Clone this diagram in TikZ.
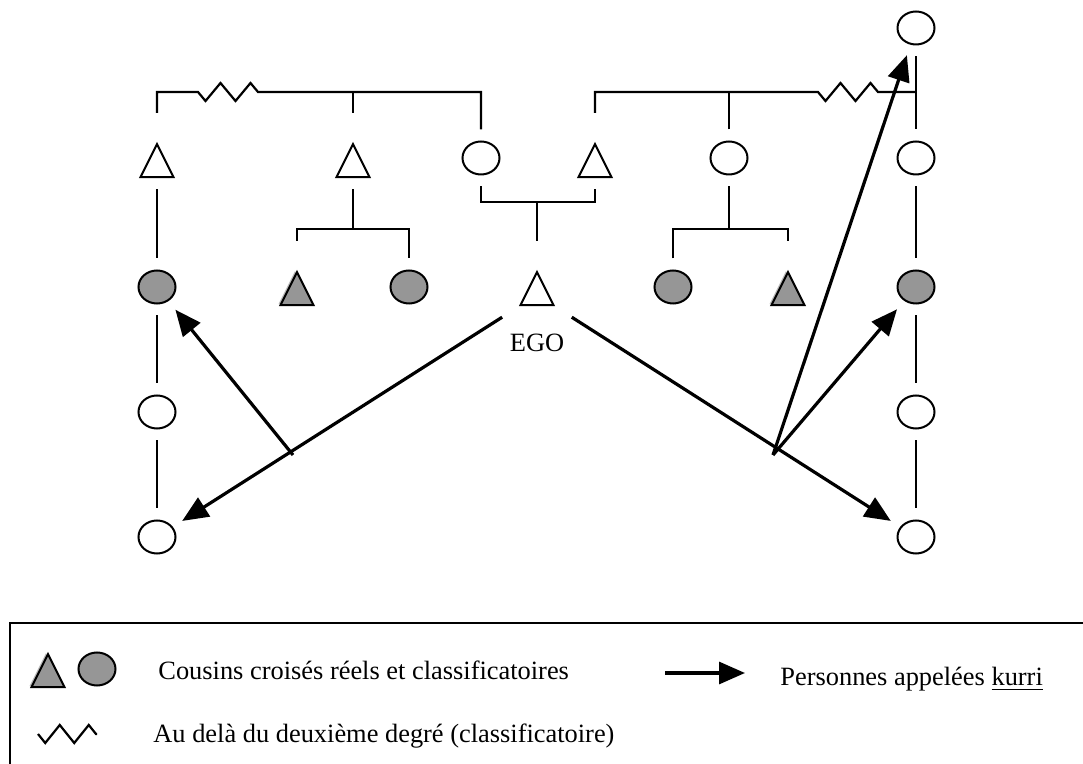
\documentclass[tikz,border=0pt]{standalone}
\usepackage{fontspec}
\setmainfont{Liberation Serif}
\usetikzlibrary{
    shapes.geometric,
    arrows.meta,
    positioning,
    decorations.pathmorphing,
    shadows
}
\definecolor{cousingray}{RGB}{150,150,150}
\definecolor{shadegray}{RGB}{185,185,185}
\tikzset{
    % Individuals
    male/.style={
        isosceles triangle,
        shape border rotate=90,
        isosceles triangle stretches,
        draw=black,
        line width=1pt,
        fill=white,
        minimum width=16.5pt,
        minimum height=16.5pt,
        inner sep=0pt,
        outer sep=6pt
    },
    female/.style={
        ellipse,
        draw=black,
        line width=1pt,
        fill=white,
        minimum width=18.5pt,
        minimum height=16.5pt,
        inner sep=0pt,
        outer sep=6pt
    },
    crosscousin/.style={
        fill=cousingray
    },
    cousinshade/.style={
        drop shadow={shadow xshift=-1pt, shadow yshift=0.5pt, fill=shadegray, opacity=1}
    },
    % Lines
    kinline/.style={
        line width=1.1pt,
        draw=black
    },
    kurri/.style={
        -{Triangle[length=13pt,width=11pt]},
        line width=1.6pt,
        draw=black
    },
    beyond/.style={
        decoration={zigzag, mirror, segment length=15pt, amplitude=4.5pt}
    },
    beyondkey/.style={
        decoration={zigzag, mirror, segment length=14.5pt, amplitude=4.5pt}
    },
    % Labels
    kinlabel/.style={
        font=\fontsize{13.2}{15}\selectfont,
        inner sep=0pt
    },
    legendtext/.style={
        font=\fontsize{13.2}{15}\selectfont,
        anchor=base west,
        inner sep=0pt
    }
}

\begin{document}
\begin{tikzpicture}[x=0.5pt, y=-0.5pt]

    \useasboundingbox (0,0) rectangle (1083,764);

    % Generation 0
    \node[female] (kin_r0) at (916,28) {};

    % Generation 1
    \node[male] (kin_l1) at (157,167) {};
    \node[male] (uncle) at (353,167) {};
    \node[female] (mother) at (481,158) {};
    \node[male] (father) at (595,167) {};
    \node[female] (aunt) at (729,158) {};
    \node[female] (kin_r1) at (916,158) {};

    % Generation 2
    \node[female, crosscousin] (kin_l2) at (157,287) {};
    \node[male, crosscousin, cousinshade] (cous_a) at (297,295) {};
    \node[female, crosscousin] (cous_b) at (409,287) {};
    \node[male] (ego) at (537,295) {};
    \node[kinlabel, below=8pt of ego] (ego_label) {EGO};
    \node[female, crosscousin] (cous_c) at (673,287) {};
    \node[male, crosscousin, cousinshade] (cous_d) at (788,295) {};
    \node[female, crosscousin] (kin_r2) at (916,287) {};

    % Generations 3 and 4
    \node[female] (kin_l3) at (157,412) {};
    \node[female] (kin_l4) at (157,537) {};
    \node[female] (kin_r3) at (916,412) {};
    \node[female] (kin_r4) at (916,537) {};

    % Sibling bars
    \coordinate (bar_l) at (157,92);
    \coordinate (zig_la) at (198,92);
    \coordinate (zig_lb) at (258,92);
    \coordinate (bar_m) at (481,92);
    \coordinate (zig_ra) at (818,92);
    \coordinate (zig_rb) at (878,92);
    \coordinate (bar_r) at (916,92);
    \draw[kinline] (kin_l1) -- (bar_l) -- (zig_la) decorate[beyond]{-- (zig_lb)} -- (bar_m) -- (mother);
    \draw[kinline] (uncle) -- (uncle |- bar_l);
    \draw[kinline] (father) |- (zig_ra) decorate[beyond]{-- (zig_rb)} -- (bar_r);
    \draw[kinline] (aunt) -- (aunt |- bar_r);

    % Marriage and descent
    \coordinate (wed) at (537,202);
    \draw[kinline] (mother) |- (wed) -| (father);
    \draw[kinline] (wed) -- (ego);
    \coordinate (sib_l) at (353,229);
    \draw[kinline] (uncle) -- (sib_l);
    \draw[kinline] (cous_a) |- (sib_l) -| (cous_b);
    \coordinate (sib_r) at (729,229);
    \draw[kinline] (aunt) -- (sib_r);
    \draw[kinline] (cous_c) |- (sib_r) -| (cous_d);

    % Classificatory lines
    \foreach \a/\b in {l1/l2, l2/l3, l3/l4, r0/r1, r1/r2, r2/r3, r3/r4}
        \draw[kinline] (kin_\a) -- (kin_\b);

    % Kurri arrows
    \coordinate (fork_l) at (293,455);
    \coordinate (fork_r) at (773,455);
    \draw[kurri] (ego) -- (kin_l4);
    \draw[kurri] (fork_l) -- (kin_l2);
    \draw[kurri] (ego) -- (kin_r4);
    \draw[kurri] (fork_r) -- (kin_r2);
    \draw[kurri] (fork_r) -- (kin_r0);

    % Legend
    \draw[kinline] (1083,623) -- (10,623) -- (10,764);
    \node[male, crosscousin, cousinshade] (leg_male) at (48,677) {};
    \node[female, crosscousin] (leg_female) at (97,669) {};
    \node[legendtext] (leg_cousins) at (158,680) {Cousins croisés réels et classificatoires};
    \coordinate (leg_a) at (665,673);
    \coordinate (leg_b) at (745,673);
    \draw[kurri] (leg_a) -- (leg_b);
    \node[legendtext] (leg_kurri) at (780,686) {Personnes appelées \underline{kurri}};
    \coordinate (leg_za) at (38,734);
    \coordinate (leg_zb) at (97,734);
    \draw[kinline] (leg_za) decorate[beyondkey]{-- (leg_zb)};
    \node[legendtext] (leg_beyond) at (153,743) {Au delà du deuxième degré (classificatoire)};

\end{tikzpicture}
\end{document}
